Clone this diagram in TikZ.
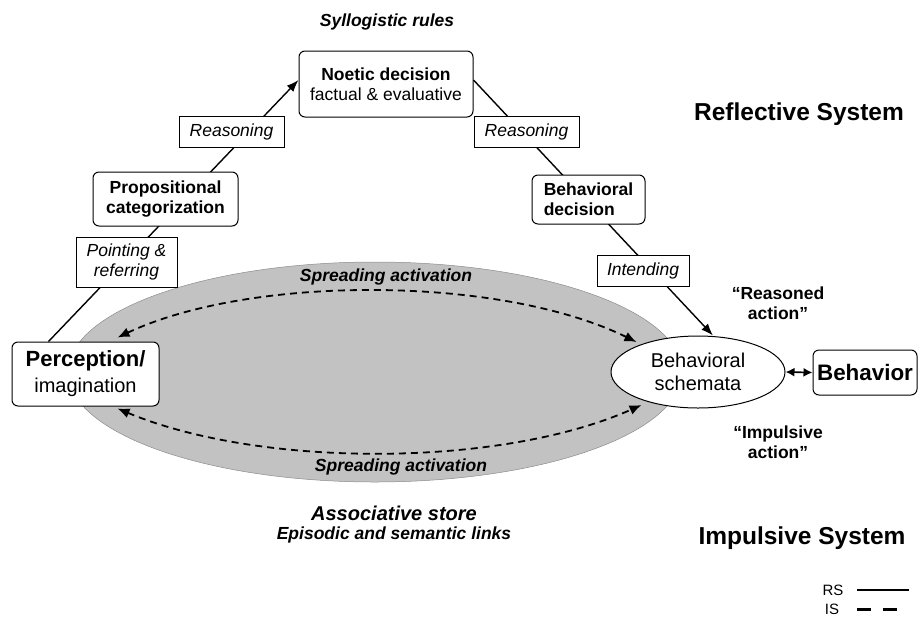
\documentclass[tikz,border=0pt]{standalone}
\usepackage{fontspec}
\setmainfont{Liberation Sans}
\usetikzlibrary{arrows.meta,shapes.geometric,backgrounds,calc}
\begin{document}
\begin{tikzpicture}[x=1pt,y=1pt,
  every node/.style={inner sep=0pt, font=\fontsize{17.5}{20}\selectfont},
  mainbox/.style={draw, rounded corners=6pt, fill=white, line width=1pt, align=center},
  lblbox/.style={draw, fill=white, line width=0.9pt, align=center, font=\fontsize{17.5}{20}\selectfont\itshape},
  boldtxt/.style={font=\fontsize{17.5}{20}\selectfont\bfseries, align=center},
  bittxt/.style={font=\fontsize{17.5}{20}\selectfont\bfseries\itshape, align=center},
  rsline/.style={line width=1.4pt},
  isline/.style={line width=1.8pt, dash pattern=on 7pt off 5pt},
  tipR/.style={-{Latex[length=12pt,width=9pt]}},
  tipIS/.style={{Latex[length=12pt,width=10pt]}-{Latex[length=12pt,width=10pt]}},
]
\useasboundingbox (0,0) rectangle (918,-619);

% reflective boxes
\node[mainbox, minimum width=174, minimum height=66] (noetic) at (386,-84) {\textbf{Noetic decision}\\factual \& evaluative};
\node[lblbox, minimum width=105, minimum height=31] (reasL) at (231.5,-131.5) {Reasoning};
\node[mainbox, minimum width=145, minimum height=54, font=\fontsize{17.5}{20}\selectfont\bfseries] (prop) at (165.5,-199) {Propositional\\categorization};
\node[lblbox, minimum width=101, minimum height=50] (point) at (126.5,-262) {Pointing \&\\referring};
\node[mainbox, minimum width=147, minimum height=64, font=\fontsize{20}{26}\selectfont] (perc) at (85.5,-374) {{\fontsize{22}{26}\selectfont\bfseries Perception/}\\imagination};
\node[lblbox, minimum width=105, minimum height=31] (reasR) at (526.5,-131.5) {Reasoning};
\node[mainbox, minimum width=113, minimum height=49, align=left, font=\fontsize{17.5}{20}\selectfont\bfseries] (behdec) at (588.5,-199.5) {Behavioral\\decision};
\node[lblbox, minimum width=92, minimum height=31] (intend) at (643,-270.5) {Intending};
\node[ellipse, draw, fill=white, line width=1pt, minimum width=174, minimum height=72, align=center, font=\fontsize{20}{23}\selectfont] (schem) at (698,-372) {Behavioral\\schemata};
\node[mainbox, minimum width=104, minimum height=45, font=\fontsize{22.4}{26}\selectfont\bfseries] (behav) at (865,-372.5) {Behavior};

% texts
\node[bittxt] (syl) at (387,-22) {Syllogistic rules};
\node[font=\fontsize{24.5}{28}\selectfont\bfseries] (refl) at (799,-114) {Reflective System};
\node[font=\fontsize{24.5}{28}\selectfont\bfseries] (impl) at (802,-538) {Impulsive System};
\node[boldtxt] (rea) at (778,-303) {“Reasoned\\action”};
\node[boldtxt] (imp) at (778,-442) {“Impulsive\\action”};
\node[font=\fontsize{20}{24}\selectfont\bfseries\itshape] (assoc) at (394,-513) {Associative store};
\node[bittxt] (epi) at (394,-535) {Episodic and semantic links};
\node[bittxt] (spT) at (386,-277) {Spreading activation};
\node[bittxt] (spB) at (401,-467) {Spreading activation};

% legend
\node[font=\fontsize{15}{18}\selectfont] (rs) at (833,-590) {RS};
\node[font=\fontsize{15}{18}\selectfont] (is) at (832,-609) {IS};
\coordinate (rsA) at (857,-590);
\coordinate (rsB) at (909,-590);
\coordinate (isA) at (857,-609);
\coordinate (isB) at (900,-609);
\draw[line width=2.5pt] (rsA) -- (rsB);
\draw[line width=3pt, dash pattern=on 14pt off 12pt] (isA) -- (isB);

\draw[line width=1.6pt, {Latex[length=9pt,width=9pt]}-{Latex[length=9pt,width=9pt]}] (schem.east) -- (behav.west);

\begin{pgfonlayer}{background}
  \fill[black!24] (375,-372) ellipse [x radius=307, y radius=110];
  \draw[black!45, line width=0.5pt] (375,-372) ellipse [x radius=307, y radius=110];
  \draw[isline, tipIS] ([shift={(26,30)}]schem.west) .. controls (500,-275) and (250,-275) .. ([shift={(-42,4)}]perc.north east);
  \draw[isline, tipIS] ([shift={(-42,-2)}]perc.south east) .. controls (260,-468) and (500,-468) .. ([shift={(31,-33)}]schem.west);
  \draw[rsline, tipR] ($(perc.north west)!0.25!(perc.north east)$) -- ([yshift=4]noetic.west);
  \draw[rsline, tipR] ([yshift=4]noetic.east) -- ([xshift=15]schem.north);
\end{pgfonlayer}
\end{tikzpicture}
\end{document}
